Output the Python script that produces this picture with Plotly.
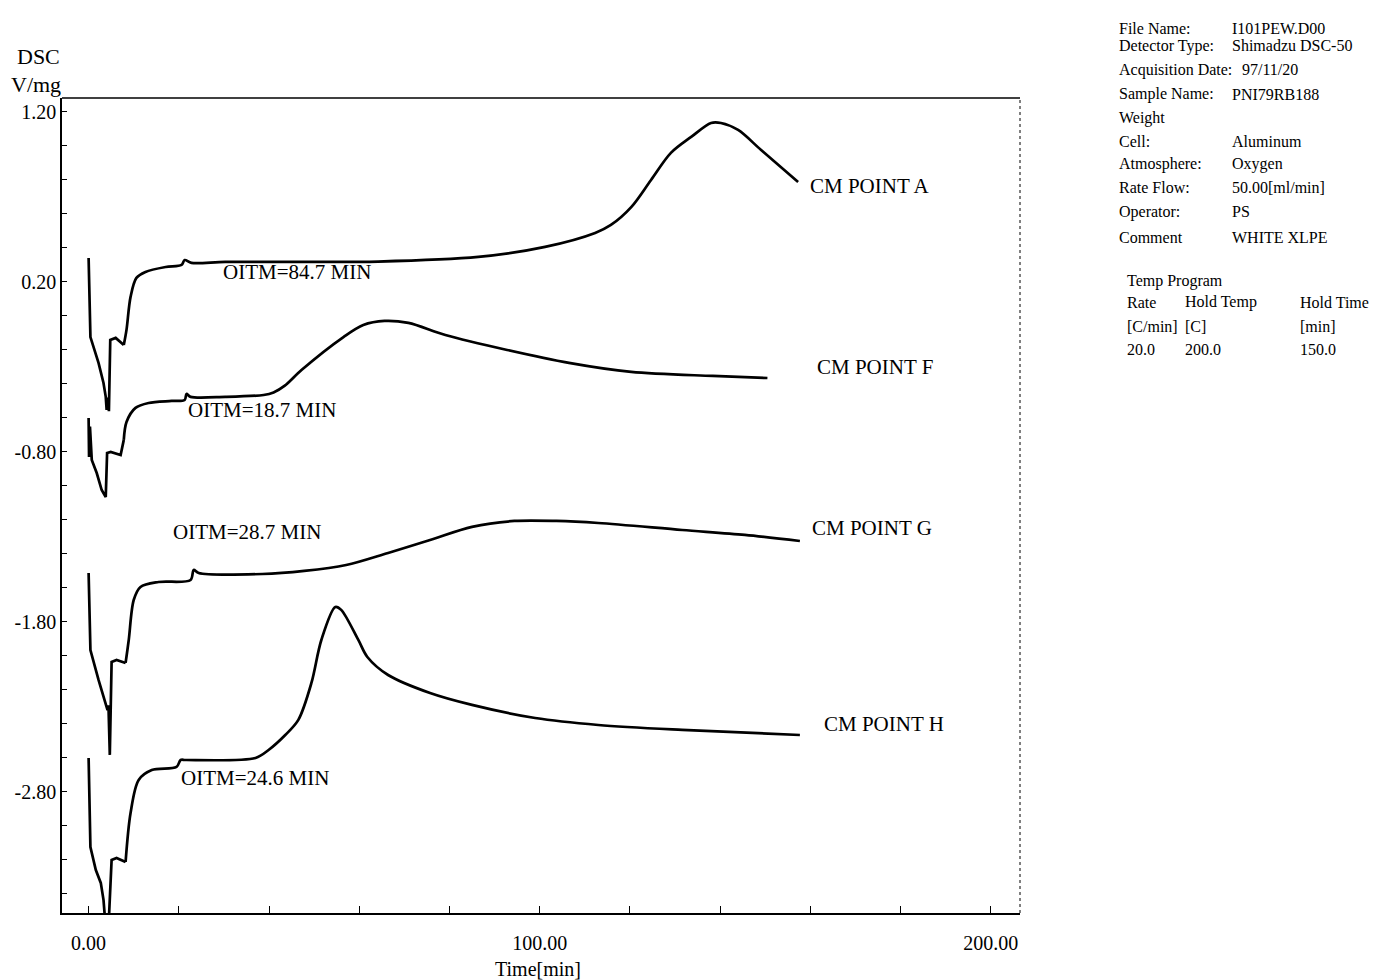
import plotly.graph_objects as go

# DSC traces: time [min] and heat flow [V/mg], one pair of arrays per sample
time_a = [0.0, 0.4, 2.2, 3.3, 3.8, 4.0, 4.3, 4.5, 4.8, 6.0, 7.8, 8.4, 9.3, 10.6, 12.6, 17.1, 20.6,
          21.3, 22.8, 30.3, 46.5, 64.2, 86.4, 101.2, 112.3, 115.8, 120.3, 124.7, 129.1, 133.6,
          138.0, 140.2, 144.0, 149.1, 157.3]
dsc_a = [0.341, -0.124, -0.276, -0.394, -0.476, -0.553, -0.48, -0.56, -0.141, -0.129, -0.171,
         -0.082, 0.112, 0.224, 0.259, 0.288, 0.300, 0.329, 0.312, 0.318, 0.318, 0.320, 0.347,
         0.406, 0.488, 0.535, 0.640, 0.800, 0.959, 1.053, 1.135, 1.135, 1.094, 0.976, 0.788]

time_f = [0.0, 0.1, 0.3, 0.6, 0.7, 1.8, 2.9, 3.8, 4.1, 4.9, 7.1, 7.8, 8.4, 10.4, 13.3, 18.4, 21.3,
          21.7, 22.6, 30.3, 38.8, 41.0, 43.5, 47.2, 56.5, 60.9, 65.6, 70.9, 79.1, 92.8, 106.5,
          120.3, 138.4, 150.5]
dsc_f = [-0.60, -0.83, -0.65, -0.80, -0.847, -0.924, -1.024, -1.065, -0.806, -0.80, -0.818,
         -0.729, -0.624, -0.541, -0.512, -0.50, -0.494, -0.459, -0.476, -0.476, -0.465, -0.450,
         -0.410, -0.318, -0.124, -0.053, -0.029, -0.041, -0.112, -0.200, -0.276, -0.329, -0.353,
         -0.365]

time_g = [0.0, 0.4, 2.2, 3.8, 4.2, 4.4, 4.7, 5.1, 6.2, 8.2, 8.9, 10.0, 11.5, 15.5, 22.6, 23.3,
          24.4, 38.5, 47.8, 57.1, 66.4, 75.7, 85.0, 94.4, 103.7, 113.0, 131.6, 145.5, 157.7]
dsc_g = [-1.512, -1.965, -2.141, -2.276, -2.318, -2.29, -2.582, -2.035, -2.024, -2.041, -1.906,
         -1.671, -1.594, -1.565, -1.553, -1.494, -1.512, -1.518, -1.500, -1.465, -1.394, -1.318,
         -1.241, -1.206, -1.206, -1.218, -1.259, -1.288, -1.324]

time_h = [0.0, 0.4, 1.6, 2.7, 3.3, 3.8, 4.4, 5.1, 6.2, 8.2, 9.3, 11.1, 14.0, 19.5, 20.4, 21.5,
          37.0, 39.9, 43.6, 46.5, 49.4, 51.6, 54.7, 56.0, 59.8, 61.8, 66.4, 75.7, 85.0, 99.0,
          113.0, 131.6, 157.7]
dsc_h = [-2.60, -3.124, -3.259, -3.335, -3.435, -3.60, -3.60, -3.20, -3.188, -3.212, -2.924,
         -2.729, -2.671, -2.653, -2.612, -2.612, -2.600, -2.553, -2.465, -2.376, -2.159, -1.906,
         -1.712, -1.729, -1.906, -2.006, -2.112, -2.218, -2.288, -2.365, -2.406, -2.435, -2.465]

# Curve labels: sample name and oxidation induction time
sample_names = ["CM POINT A", "CM POINT F", "CM POINT G", "CM POINT H"]
oitm_labels = ["OITM=84.7 MIN", "OITM=18.7 MIN", "OITM=28.7 MIN", "OITM=24.6 MIN"]

# Axis ticks
x_ticks = [0, 20, 40, 60, 80, 100, 120, 140, 160, 180, 200]
x_tick_text = ["0.00", "", "", "", "", "100.00", "", "", "", "", "200.00"]
y_ticks = [round(1.2 - 0.2 * i, 2) for i in range(24)]
y_labeled = [1.20, 0.20, -0.80, -1.80, -2.80]

# Instrument / run information
info_keys = ["File Name:", "Detector Type:", "Acquisition Date:", "Sample Name:", "Weight",
             "Cell:", "Atmosphere:", "Rate Flow:", "Operator:", "Comment"]
info_values = ["I101PEW.D00", "Shimadzu DSC-50", "97/11/20", "PNI79RB188", "",
               "Aluminum", "Oxygen", "50.00[ml/min]", "PS", "WHITE XLPE"]
program_head = ["Rate", "Hold Temp", "Hold Time"]
program_units = ["[C/min]", "[C]", "[min]"]
program_values = ["20.0", "200.0", "150.0"]

FONT = "Liberation Serif"
W, H = 1377, 980
L, R, T, B = 62, 1020, 98, 913
START_END = 7.5  # the jagged start-up transient is drawn straight, the rest smoothed

fig = go.Figure()
for t, v in [(time_a, dsc_a), (time_f, dsc_f), (time_g, dsc_g), (time_h, dsc_h)]:
    k = next(i for i, tt in enumerate(t) if tt >= START_END)
    fig.add_trace(go.Scatter(x=t[:k + 1], y=v[:k + 1], mode="lines",
                             line=dict(color="black", width=2.7, shape="linear"),
                             showlegend=False, hoverinfo="skip"))
    fig.add_trace(go.Scatter(x=t[k:], y=v[k:], mode="lines",
                             line=dict(color="black", width=2.7, shape="spline", smoothing=0.9),
                             showlegend=False, hoverinfo="skip"))


def px(xp):
    return (xp - L) / (R - L)


def py(yp):
    return (B - yp) / (B - T)


ann = []
# curve name labels
for name, (xp, yp) in zip(sample_names, [(808, 186), (815, 367), (810, 528), (822, 724)]):
    ann.append(dict(x=px(xp), y=py(yp), xref="paper", yref="paper", text=name,
                    showarrow=False, xanchor="left", yanchor="middle",
                    font=dict(family=FONT, size=21, color="black")))
# OITM labels
for lab, (xp, yp) in zip(oitm_labels, [(297, 272), (262, 410), (247, 532), (255, 778)]):
    ann.append(dict(x=px(xp), y=py(yp), xref="paper", yref="paper", text=lab,
                    showarrow=False, xanchor="center", yanchor="middle",
                    font=dict(family=FONT, size=21, color="black")))

# axis titles
ann.append(dict(x=px(38), y=py(56), xref="paper", yref="paper", text="DSC", showarrow=False,
                xanchor="center", yanchor="middle", font=dict(family=FONT, size=22, color="black")))
ann.append(dict(x=px(36), y=py(84), xref="paper", yref="paper", text="V/mg", showarrow=False,
                xanchor="center", yanchor="middle", font=dict(family=FONT, size=22, color="black")))
ann.append(dict(x=px(538), y=py(969), xref="paper", yref="paper", text="Time[min]",
                showarrow=False, xanchor="center", yanchor="middle",
                font=dict(family=FONT, size=20, color="black")))

# information panel
info_y = [28, 46, 70, 94, 118, 141, 164, 187, 212, 237]
for k, v, yp in zip(info_keys, info_values, info_y):
    ann.append(dict(x=px(1117), y=py(yp), xref="paper", yref="paper", text=k, showarrow=False,
                    xanchor="left", yanchor="middle", font=dict(family=FONT, size=16, color="black")))
    if v:
        vx = 1240 if k.startswith("Acquisition") else 1230
        ann.append(dict(x=px(vx), y=py(yp), xref="paper", yref="paper", text=v, showarrow=False,
                        xanchor="left", yanchor="middle",
                        font=dict(family=FONT, size=16, color="black")))
ann.append(dict(x=px(1125), y=py(281), xref="paper", yref="paper", text="Temp Program",
                showarrow=False, xanchor="left", yanchor="middle",
                font=dict(family=FONT, size=16, color="black")))
for row, yp in [(program_head, 302), (program_units, 326), (program_values, 349)]:
    for txt, xp in zip(row, [1125, 1183, 1298]):
        ann.append(dict(x=px(xp), y=py(yp), xref="paper", yref="paper", text=txt,
                        showarrow=False, xanchor="left", yanchor="middle",
                        font=dict(family=FONT, size=16, color="black")))

shapes = [
    # top border
    dict(type="line", xref="paper", yref="paper", x0=0, x1=1, y0=1, y1=1,
         line=dict(color="black", width=1.5)),
    # right border, dotted
    dict(type="line", xref="paper", yref="paper", x0=1, x1=1, y0=0, y1=1,
         line=dict(color="black", width=1, dash="dot")),
]

fig.update_layout(
    width=W, height=H,
    margin=dict(l=L, r=W - R, t=T, b=H - B),
    paper_bgcolor="white", plot_bgcolor="white",
    annotations=ann, shapes=shapes,
    font=dict(family=FONT, color="black"),
)
fig.update_xaxes(range=[-5.9, 206.5], showgrid=False, zeroline=False,
                 showline=True, linecolor="black", linewidth=1.5,
                 ticks="inside", ticklen=7, tickwidth=1, tickcolor="black",
                 tickvals=x_ticks, ticktext=x_tick_text, ticklabelstandoff=11,
                 tickfont=dict(family=FONT, size=20, color="black"))
fig.update_yaxes(range=[-3.512, 1.282], showgrid=False, zeroline=False,
                 showline=True, linecolor="black", linewidth=1.5,
                 ticks="inside", ticklen=5, tickwidth=1, tickcolor="black",
                 tickvals=y_ticks,
                 ticktext=[f"{v:.2f}" if any(abs(v - u) < 1e-6 for u in y_labeled) else ""
                           for v in y_ticks],
                 tickfont=dict(family=FONT, size=20, color="black"))

fig.write_html("out.html")
